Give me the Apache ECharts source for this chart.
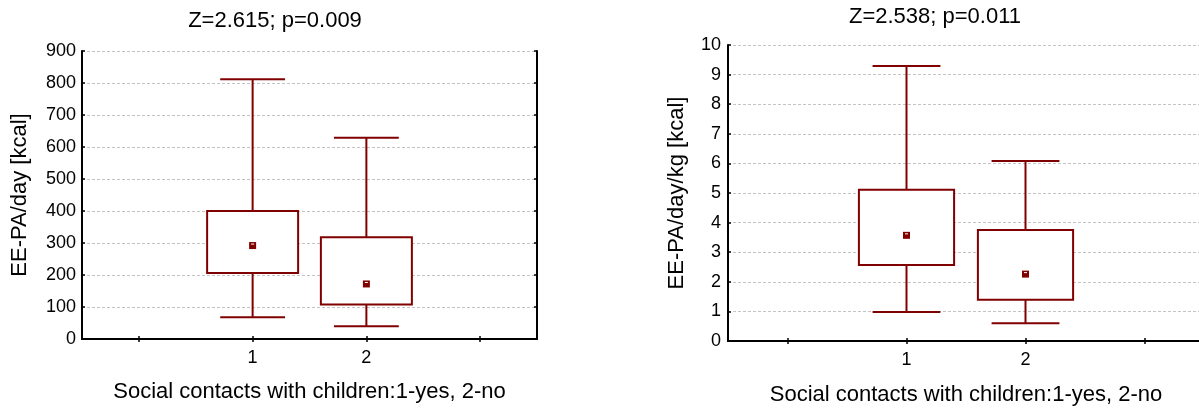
<!DOCTYPE html>
<html>
<head>
<meta charset="utf-8">
<script src="https://cdn.jsdelivr.net/npm/echarts@6/dist/echarts.min.js"></script>
<style>
html,body{margin:0;padding:0;background:#fff;}
#chart{width:1199px;height:408px;}
</style>
</head>
<body>
<div id="chart"></div>
<script>
// ---- data ----
const xCategories = ['', '1', '2', ' '];
const groups = ['1', '2'];
const kcalMin  = [68, 40];
const kcalQ1   = [206, 108];
const kcalQ3   = [400, 318];
const kcalMax  = [812, 629];
const kcalMean = [292, 172];
const kgMin  = [0.98, 0.60];
const kgQ1   = [2.57, 1.39];
const kgQ3   = [5.11, 3.75];
const kgMax  = [9.29, 6.08];
const kgMean = [3.57, 2.26];
const kcalAxis = { min: 0, max: 900, interval: 100 };
const kgAxis = { min: 0, max: 10, interval: 1 };
const titles = ['Z=2.615; p=0.009', 'Z=2.538; p=0.011'];
const yNames = ['EE-PA/day [kcal]', 'EE-PA/day/kg [kcal]'];
const xName = 'Social contacts with children:1-yes, 2-no';

// ---- styling ----
const FONT = "'Liberation Sans', Arial, sans-serif";
const RED = '#800000';

function rows(mn, q1, q3, mx, mean) {
  return groups.map((g, i) => [g, mn[i], q1[i], q3[i], mx[i], mean[i]]);
}

function renderBox(params, api) {
  const cat = api.value(0);
  const mn = api.value(1), q1 = api.value(2), q3 = api.value(3), mx = api.value(4), mean = api.value(5);
  const band = api.size([1, 0])[0];
  const boxW = band * 0.8, capW = band * 0.57;
  const c = api.coord([cat, 0])[0];
  const yMin = api.coord([cat, mn])[1];
  const yQ1 = api.coord([cat, q1])[1];
  const yQ3 = api.coord([cat, q3])[1];
  const yMax = api.coord([cat, mx])[1];
  const yMean = api.coord([cat, mean])[1];
  const ls = { stroke: RED, lineWidth: 2, fill: null };
  return {
    type: 'group',
    children: [
      { type: 'line', shape: { x1: c, y1: yMax, x2: c, y2: yQ3 }, style: ls },
      { type: 'line', shape: { x1: c, y1: yQ1, x2: c, y2: yMin }, style: ls },
      { type: 'line', shape: { x1: c - capW / 2, y1: yMax, x2: c + capW / 2, y2: yMax }, style: ls },
      { type: 'line', shape: { x1: c - capW / 2, y1: yMin, x2: c + capW / 2, y2: yMin }, style: ls },
      { type: 'rect', shape: { x: c - boxW / 2, y: yQ3, width: boxW, height: yQ1 - yQ3 },
        style: { stroke: RED, lineWidth: 2, fill: '#ffffff' } },
      { type: 'rect', shape: { x: c - 3.5, y: yMean - 3.5, width: 7, height: 7 },
        style: { fill: RED, stroke: null } },
      { type: 'rect', shape: { x: c - 1.5, y: yMean - 2, width: 3, height: 1 },
        style: { fill: '#ffffff', stroke: null } }
    ]
  };
}

const axisLineStyle = { show: true, lineStyle: { color: '#000', width: 2 } };
const tickStyle = { show: true, inside: true, length: 3, lineStyle: { color: '#000', width: 1.5 } };

function xAxes(gridIndex, labelMargin, nameGap) {
  return [
    {
      type: 'category', gridIndex, data: xCategories, position: 'bottom',
      boundaryGap: true,
      axisLine: axisLineStyle,
      axisTick: Object.assign({ alignWithLabel: true, interval: 0 }, tickStyle),
      axisLabel: { interval: 0, margin: labelMargin, color: '#000', fontSize: 18, fontFamily: FONT },
      splitLine: { show: false },
      name: xName, nameLocation: 'middle', nameGap,
      nameTextStyle: { color: '#000', fontSize: 22, fontFamily: FONT }
    },
    {
      type: 'category', gridIndex, data: xCategories, position: 'top',
      boundaryGap: true,
      axisLine: axisLineStyle,
      axisTick: Object.assign({ alignWithLabel: true, interval: 0 }, tickStyle),
      axisLabel: { show: false },
      splitLine: { show: false }
    }
  ];
}

function yAxes(gridIndex, range, name, nameGap, labelMargin) {
  return [
    {
      type: 'value', gridIndex, position: 'left',
      min: range.min, max: range.max, interval: range.interval,
      axisLine: axisLineStyle,
      axisTick: tickStyle,
      axisLabel: { margin: labelMargin, color: '#000', fontSize: 18, fontFamily: FONT },
      splitLine: { show: true, lineStyle: { color: '#c4c4c4', type: [3, 2], width: 1 } },
      name, nameLocation: 'middle', nameRotate: 90, nameGap,
      nameTextStyle: { color: '#000', fontSize: 22, fontFamily: FONT }
    },
    {
      type: 'value', gridIndex, position: 'right',
      min: range.min, max: range.max, interval: range.interval,
      axisLine: axisLineStyle,
      axisTick: tickStyle,
      axisLabel: { show: false },
      splitLine: { show: false }
    }
  ];
}

const chart = echarts.init(document.getElementById('chart'), null, { renderer: 'canvas' });
chart.setOption({
  animation: false,
  backgroundColor: '#ffffff',
  title: [
    { text: titles[0], left: 275, top: 10, textAlign: 'center', padding: 0,
      textStyle: { color: '#000', fontSize: 22, fontWeight: 'normal', fontFamily: FONT } },
    { text: titles[1], left: 935, top: 6, textAlign: 'center', padding: 0,
      textStyle: { color: '#000', fontSize: 22, fontWeight: 'normal', fontFamily: FONT } }
  ],
  grid: [
    { left: 82, top: 51, width: 455, height: 288, outerBoundsMode: 'none', containLabel: false },
    { left: 728, top: 45, width: 476, height: 296, outerBoundsMode: 'none', containLabel: false }
  ],
  xAxis: [].concat(xAxes(0, 10, 42), xAxes(1, 10, 43)),
  yAxis: [].concat(yAxes(0, kcalAxis, yNames[0], 51, 6), yAxes(1, kgAxis, yNames[1], 40, 7)),
  series: [
    {
      type: 'custom', xAxisIndex: 0, yAxisIndex: 0,
      renderItem: renderBox,
      encode: { x: 0, y: [1, 2, 3, 4, 5] },
      data: rows(kcalMin, kcalQ1, kcalQ3, kcalMax, kcalMean),
      z: 10
    },
    {
      type: 'custom', xAxisIndex: 2, yAxisIndex: 2,
      renderItem: renderBox,
      encode: { x: 0, y: [1, 2, 3, 4, 5] },
      data: rows(kgMin, kgQ1, kgQ3, kgMax, kgMean),
      z: 10
    }
  ]
});
</script>
</body>
</html>
